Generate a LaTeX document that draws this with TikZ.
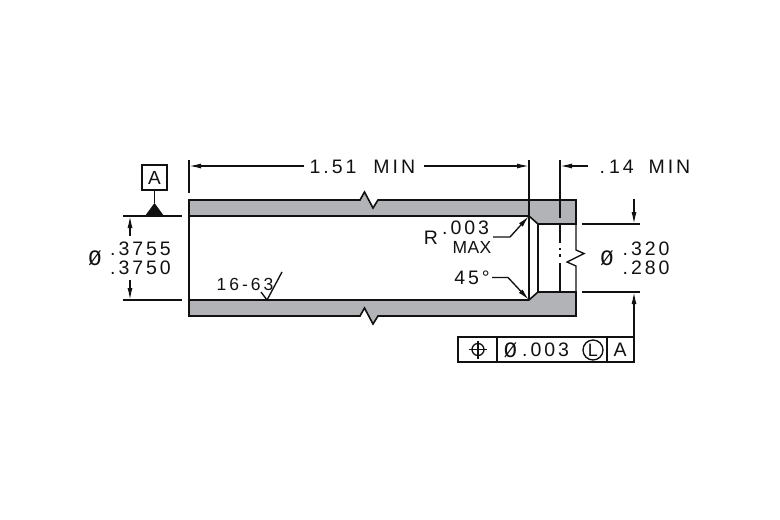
\documentclass[tikz,border=0pt]{standalone}
\usepackage{fontspec}
\usetikzlibrary{arrows.meta}
\newfontfamily\dimfont[LetterSpace=15]{Liberation Sans}
\newfontfamily\maxfont[LetterSpace=2]{Liberation Sans}
\newfontfamily\finfont[LetterSpace=17]{Liberation Sans}
\newfontfamily\phifont{Liberation Mono}
\definecolor{wallgray}{HTML}{B2B3B6}
\definecolor{inkc}{HTML}{111111}
\tikzset{
  ln/.style={line width=1.35pt,draw=inkc},
  wall/.style={fill=wallgray,draw=inkc,line width=1.6pt,line join=miter},
  tip/.style={-{Latex[length=12pt,width=5pt]}},
  dimtext/.style={inner sep=0pt,text=inkc,font=\dimfont\fontsize{19.5}{20}\selectfont,anchor=center},
  phitext/.style={inner sep=0pt,text=inkc,font=\phifont\fontsize{22}{23}\selectfont,anchor=center},
  maxtext/.style={inner sep=0pt,text=inkc,font=\maxfont\fontsize{17.5}{18}\selectfont,anchor=center},
  fintext/.style={inner sep=0pt,text=inkc,font=\finfont\fontsize{17.5}{18}\selectfont,anchor=center},
  framebox/.style={draw=inkc,line width=1.35pt,inner sep=0pt,minimum width=25pt,minimum height=25pt,text=inkc,font=\dimfont\fontsize{19}{20}\selectfont},
}
\begin{document}
\begin{tikzpicture}[x=1pt,y=-1pt]
\useasboundingbox (0,0) rectangle (780,520);
% coordinates
\coordinate (ltop) at (189,216); \coordinate (lbot) at (189,300);
\coordinate (chT) at (529,216); \coordinate (chB) at (529,300);
\coordinate (ch2T) at (538,224); \coordinate (ch2B) at (538,292);
\coordinate (rT) at (576,224); \coordinate (rB) at (576,292);
% walls
\path[wall] (189,200) -- (360,200) -- (364.5,192) -- (373,208) -- (378,200) -- (576,200) -- (rT) -- (ch2T) -- (chT) -- (ltop) -- cycle;
\path[wall] (lbot) -- (chB) -- (ch2B) -- (rB) -- (576,316) -- (378,316) -- (373,324) -- (364.5,308) -- (360,316) -- (189,316) -- cycle;
% bore outline
\draw[ln] (ltop) -- (lbot);
\draw[ln] (576,224) -- (576,250) -- (584,253.5) -- (567,262) -- (576,266) -- (576,292);
\draw[ln] (chT) -- (chB);
\draw[ln] (ch2T) -- (ch2B);
% hidden break line
\draw[ln] (560,224) -- (560,243);
\draw[ln] (560,248) -- (560,250);
\draw[ln] (560,254) -- (560,257);
\draw[ln] (560,263) -- (560,292);
% extension lines
\draw[ln] (189,160) -- (189,193);
\draw[ln] (529,160) -- (chT);
\draw[ln] (560,160) -- (560,218);
\draw[ln] (123,216) -- (182,216);
\draw[ln] (123,300) -- (182,300);
\draw[ln] (582,224) -- (640,224);
\draw[ln] (582,292) -- (640,292);
% datum
\node[framebox] (datum) at (154.5,177.5) {A};
\coordinate (dapex) at (154.5,203);
\draw[ln] (datum.south) -- (dapex);
\fill[inkc] (dapex) -- (164,216) -- (145,216) -- cycle;
% dimension 1.51
\node[dimtext,anchor=west] (d151) at (309.5,167) {1.\kern3pt 51\kern17pt MIN};
\coordinate (d151a) at (304,166); \coordinate (d151b) at (424,166);
\draw[ln,tip] (d151a) -- (189,166);
\draw[ln,tip] (d151b) -- (529,166);
% dimension .14
\node[dimtext,anchor=west] (d14) at (599.5,167) {.\kern4pt 14\kern15pt MIN};
\coordinate (d14a) at (588,166);
\draw[ln,tip] (d14a) -- (560,166);
% diameter left
\node[dimtext,anchor=west] (da) at (110,249) {.3755};
\node[dimtext,anchor=west] (db) at (110,268) {.3750};
\node[phitext] (dphi) at (95,258.5) {Ø};
\draw[ln,tip] (130,236) -- (130,216);
\draw[ln,tip] (130,280) -- (130,300);
% diameter right
\node[dimtext,anchor=west] (pa) at (622.5,249) {.320};
\node[dimtext,anchor=west] (pb) at (622.5,268) {.280};
\node[phitext] (pphi) at (607,258.5) {Ø};
\draw[ln,tip] (634,199) -- (634,224);
% R and 45
\node[dimtext] (rr) at (431,237.5) {R};
\node[dimtext,anchor=west] (r3) at (442,228) {.003};
\node[maxtext] (rmax) at (472,247) {MAX};
\draw[ln,tip] (493,237) -- (510,237) -- (chT);
\node[dimtext] (d45) at (472,278) {45°};
\draw[ln,tip] (492,277.5) -- (508,277.5) -- (chB);
% finish
\node[fintext] (fin) at (245,284) {16-63};
\draw[ln] (261,292) -- (267,300) -- (282,272);
% feature control frame
\draw[ln] (458,337) rectangle (634,362);
\draw[ln] (497,337) -- (497,362);
\draw[ln] (607,337) -- (607,362);
\draw[ln] (478,349.5) circle[radius=6pt];
\draw[ln] (469,349.5) -- (487,349.5);
\draw[ln] (478,340.5) -- (478,358.5);
\node[phitext] (fphi) at (510.5,350) {Ø};
\node[dimtext,anchor=west] (fv) at (522,350) {.003};
\node[draw=inkc,circle,line width=1.35pt,minimum size=20pt,inner sep=0pt,text=inkc,font=\dimfont\fontsize{18}{19}\selectfont] (fl) at (593,350) {L};
\node[dimtext] (fa) at (620,350) {A};
\coordinate (fconn) at (634,337);
\draw[ln,tip] (fconn) -- (634,292);
\end{tikzpicture}
\end{document}
